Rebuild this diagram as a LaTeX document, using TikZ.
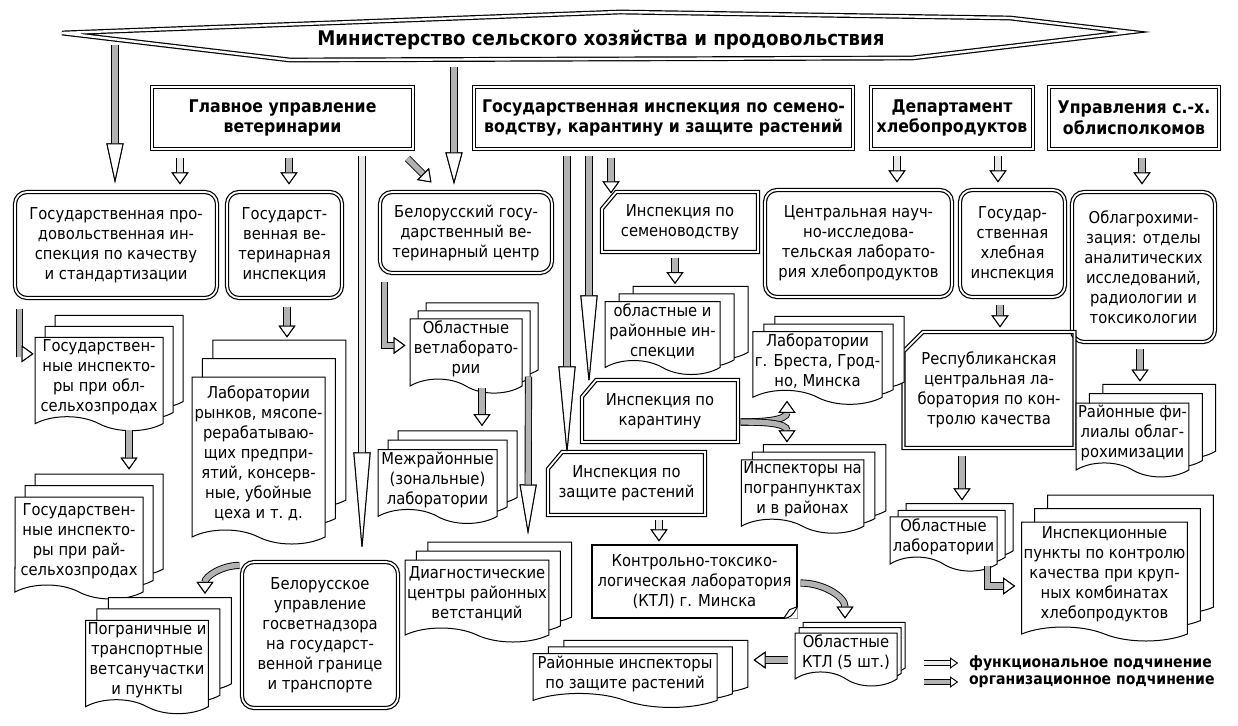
\documentclass[tikz,border=0pt]{standalone}
\usepackage{fontspec}
\setmainfont[FakeStretch=0.9]{DejaVu Sans}
\usetikzlibrary{
    arrows.meta,        % puntas Triangle de las flechas de bloque
    calc,               % desplazamientos desde anclas
    shapes.misc,        % chamfered rectangle
    shapes.symbols,     % tape (hoja de documento)
    shadows             % copy shadow (hojas apiladas)
}

\begin{document}
\begin{tikzpicture}[
      x=0.5pt, y=-0.5pt,
      font=\fontsize{8.2}{10}\selectfont,
      hdr/.style ={draw, double, double distance=1pt, line width=0.6pt, align=center, inner sep=1pt,
                   font=\bfseries\fontsize{8.75}{10.4}\selectfont},
      rbox/.style={draw, double, double distance=0.9pt, line width=0.6pt, rounded corners=6pt,
                   align=center, inner sep=1pt},
      cbox/.style={chamfered rectangle, chamfered rectangle corners=north west,
                   chamfered rectangle xsep=4pt, chamfered rectangle angle=40,
                   draw, double, double distance=0.9pt, line width=0.6pt, align=center, inner sep=1pt},
      docs/.style n args={4}{tape, tape bend top=none, tape bend bottom=out and in, tape bend height=7pt,
                   draw, fill=white, line width=0.5pt, align=center, inner sep=1pt,
                   copy shadow={shadow xshift=#3, shadow yshift=#4, fill=white, draw=black},
                   copy shadow={shadow xshift=#1, shadow yshift=#2, fill=white, draw=black}},
      orgarr/.style={line width=2.7pt, draw=gray!60,
                   preaction={draw=black, line width=3.6pt,
                              -{Triangle[color=black, fill=white, line width=0.5pt, width=8.5pt, length=#1]}},
                   -{Triangle[color=black, fill=white, line width=0.5pt, width=8.5pt, length=#1]}},
      orgarr/.default=6pt,
      funarr/.style={orgarr=#1, draw=gray!18},
      funarr/.default=6pt,
      legarr/.style={line width=2.2pt, draw=#1,
                   preaction={draw=black, line width=3pt,
                              -{Triangle[color=black, fill=white, line width=0.4pt, width=5.5pt, length=4pt]}},
                   -{Triangle[color=black, fill=white, line width=0.4pt, width=5.5pt, length=4pt]}}
    ]
    \useasboundingbox (0,0) rectangle (1238,725);

    % --- Ministerio (banda superior) ---
    \draw[double, double distance=1.2pt, line width=0.6pt, fill=white]
        (62,33) -- (620,12) -- (1010,18) -- (1130,32) -- (912,58) -- (290,60) -- cycle;
    \node[font=\bfseries\fontsize{10.1}{12}\selectfont] (m) at (601,40)
        {Министерство сельского хозяйства и продовольствия};

    % --- Direcciones (fila 2) ---
    \node[hdr, minimum width=130.5pt, minimum height=31pt] (b1) at (282.5,118) {Главное управление\\ветеринарии};
    \node[hdr, minimum width=189.5pt, minimum height=31pt] (b2) at (663.5,118)
        {Государственная инспекция по семено-\\водству, карантину и защите растений};
    \node[hdr, minimum width=81pt,  minimum height=31pt] (b3) at (952,118)  {Департамент\\хлебопродуктов};
    \node[hdr, minimum width=85pt,  minimum height=31pt] (b4) at (1134,118) {Управления с.-х.\\облисполкомов};

    % --- Inspecciones y centros (fila 3) ---
    \node[rbox, minimum width=101pt, minimum height=53pt] (n1) at (116,245)
        {Государственная про-\\довольственная ин-\\спекция по качеству\\и стандартизации};
    \node[rbox, minimum width=57.5pt, minimum height=53pt] (n2) at (284.5,245)
        {Государст-\\венная ве-\\теринарная\\инспекция};
    \node[rbox, minimum width=86pt, minimum height=40.5pt] (c1) at (466,232.5)
        {Белорусский госу-\\дарственный ве-\\теринарный центр};
    \node[rbox, minimum width=93.5pt, minimum height=53.5pt] (n3) at (858.5,243.5)
        {Центральная науч-\\но-исследова-\\тельская лаборато-\\рия хлебопродуктов};
    \node[rbox, minimum width=52.5pt, minimum height=53.5pt] (n4) at (1012.5,243.5)
        {Государ-\\ственная\\хлебная\\инспекция};
    \node[rbox, minimum width=71.5pt, minimum height=75pt] (n5) at (1143.5,267)
        {Облагрохими-\\зация: отделы\\аналитических\\исследований,\\радиологии и\\токсикологии};
    \node[rbox, minimum width=78pt, minimum height=73pt] (n6) at (320,635)
        {Белорусское\\управление\\госветнадзора\\на государст-\\венной границе\\и транспорте};

    % --- Inspecciones de semillas, cuarentena, proteccion ---
    \node[cbox, minimum width=78pt, minimum height=30pt] (s1) at (680,222) {Инспекция по\\семеноводству};
    \node[cbox, minimum width=78pt, minimum height=31pt] (s2) at (660,411) {Инспекция по\\карантину};
    \node[cbox, minimum width=78.5pt, minimum height=31.5pt] (s3) at (626.5,483.5) {Инспекция по\\защите растений};
    \node[cbox, chamfered rectangle xsep=6pt, chamfered rectangle angle=45,
          minimum width=84pt, minimum height=58pt] (r1) at (989,390)
        {Республиканская\\центральная ла-\\боратория по кон-\\тролю качества};
    \node[draw, line width=0.6pt, align=center, inner sep=1pt, minimum width=102.5pt, minimum height=36.5pt]
        (k1) at (694.5,581.5) {Контрольно-токсико-\\логическая лаборатория\\(КТЛ) г. Минска};
    \fill[white] ($(k1.south east)+(-14,0)$) -- (k1.south east) -- ($(k1.south east)+(0,-12)$) -- cycle;
    \draw[line width=0.5pt] ($(k1.south east)+(-14,0)$) .. controls ($(k1.south east)+(-6,-2)$) .. ($(k1.south east)+(0,-12)$);
    \draw[line width=0.5pt] ($(k1.south east)+(-14,0)$) -- ($(k1.south east)+(-8,-9)$) -- ($(k1.south east)+(0,-12)$);

    % --- Documentos (hojas apiladas) ---
    \node[docs={5pt}{5.5pt}{10pt}{11pt}, minimum width=64pt, minimum height=42pt] (d1) at (99,377)
        {Государствен-\\ные инспекто-\\ры при обл-\\сельхозпродах};
    \node[docs={5.2pt}{9.2pt}{10.4pt}{18.4pt}, minimum width=66.5pt, minimum height=83.5pt] (d2) at (258.5,453.5)
        {Лаборатории\\рынков, мясопе-\\рерабатываю-\\щих предпри-\\ятий, консерв-\\ные, убойные\\цеха и т.~д.};
    \node[docs={4pt}{4pt}{8pt}{8pt}, minimum width=56pt, minimum height=36pt] (d3) at (466,349)
        {Областные\\ветлаборато-\\рии};
    \node[docs={5pt}{4.7pt}{10pt}{9.4pt}, minimum width=59.5pt, minimum height=32.5pt] (d4) at (437.5,479.5)
        {Межрайонные\\(зональные)\\лаборатории};
    \node[docs={5.7pt}{4.5pt}{11.4pt}{9pt}, minimum width=70pt, minimum height=41pt] (d5) at (477,594)
        {Диагностические\\центры районных\\ветстанций};
    \node[docs={7pt}{3.8pt}{14pt}{7.6pt}, minimum width=57.5pt, minimum height=33pt] (d6) at (662.5,331)
        {областные и\\районные ин-\\спекции};
    \node[docs={5.5pt}{3.8pt}{11pt}{7.6pt}, minimum width=60.5pt, minimum height=33pt] (d7) at (817.5,361)
        {Лаборатории\\г. Бреста, Грод-\\но, Минска};
    \node[docs={5.5pt}{3.8pt}{11pt}{7.6pt}, minimum width=60.5pt, minimum height=32.5pt] (d8) at (802.5,489.5)
        {Инспекторы на\\погранпунктах\\и в районах};
    \node[docs={6.7pt}{4.7pt}{13.4pt}{9.4pt}, minimum width=55.5pt, minimum height=31pt] (d9) at (1132.5,433)
        {Районные фи-\\лиалы облаг-\\рохимизации};
    \node[docs={4pt}{3.3pt}{8pt}{6.6pt}, minimum width=53.5pt, minimum height=22pt] (d10) at (943.5,537)
        {Областные\\лаборатории};
    \node[docs={6.5pt}{6.7pt}{13pt}{13.4pt}, minimum width=82.5pt, minimum height=59.5pt] (d11) at (1104.5,574.5)
        {Инспекционные\\пункты по контролю\\качества при круп-\\ных комбинатах\\хлебопродуктов};
    \node[docs={5pt}{5.7pt}{10pt}{11.4pt}, minimum width=64pt, minimum height=51pt] (d12) at (79,541)
        {Государствен-\\ные инспекто-\\ры при рай-\\сельхозпродах};
    \node[docs={5.7pt}{5.7pt}{11.4pt}{11.4pt}, minimum width=60pt, minimum height=45pt] (d13) at (147,660)
        {Пограничные и\\транспортные\\ветсанучастки\\и пункты};
    \node[docs={2pt}{2.7pt}{4pt}{5.4pt}, minimum width=51pt, minimum height=24.5pt] (d14) at (846,652.5)
        {Областные\\КТЛ (5 шт.)};
    \node[docs={7.7pt}{3.3pt}{15.4pt}{6.6pt}, minimum width=92pt, minimum height=23.5pt] (d15) at (625,673.5)
        {Районные инспекторы\\по защите растений};

    % --- Leyenda ---
    \node[anchor=west, font=\bfseries\fontsize{7.8}{10}\selectfont] (lfun) at (962,663) {функциональное подчинение};
    \node[anchor=west, font=\bfseries\fontsize{7.8}{10}\selectfont] (lorg) at (962,682) {организационное подчинение};

    % ================= FLECHAS =================

    % --- Desde el ministerio ---
    \draw[orgarr=20pt] ($(m.center)+(-486,5)$) -- ($(n1.north)+(-1,-8)$);
    \draw[orgarr=16pt] ($(m.center)+(-147,27)$) -- ($(c1.north)+(-12,-7)$);

    % --- Desde las direcciones ---
    \draw[funarr] ($(b1.south)+(-102.5,8)$) -- ($(b1.south |- n1.north)+(-102.5,-7)$);
    \draw[orgarr] ($(b1.south)+(6.5,8)$) -- ($(b1.south |- n2.north)+(6.5,-7)$);
    \draw[funarr=50pt] ($(b1.south)+(79.5,6)$) -- ($(b1.south |- n6.north)+(79.5,-9)$);
    \draw[orgarr] ($(b1.south east)+(-6,9)$) -- ($(c1.north west)+(52,-9)$);
    \draw[orgarr=45pt] ($(b2.south)+(-96.5,6)$) -- ($(b2.south |- s3.north)+(-96.5,5)$);
    \draw[orgarr=45pt] ($(b2.south)+(-74.5,6)$) -- ($(b2.south |- s2.north)+(-74.5,6)$);
    \draw[orgarr] ($(b2.south)+(-52.5,8)$) -- ($(b2.south |- s1.north)+(-52.5,2)$);
    \draw[funarr] ($(b3.south)+(-55,6)$) -- ($(b3.south |- n3.north)+(-55,-7)$);
    \draw[funarr] ($(b3.south)+(46,6)$) -- ($(b3.south |- n4.north)+(46,-7)$);
    \draw[orgarr] ($(b4.south)+(8,8)$) -- ($(b4.south |- n5.north)+(8,-7)$);

    % --- Hacia los documentos ---
    \draw[orgarr] ($(n1.south west)+(5,10)$) |- ($(d1.north west)+(-1,17)$);
    \draw[orgarr] ($(n2.south)+(2.5,8)$) -- ($(d2.north)+(28.5,-39)$);
    \draw[orgarr] ($(d1.south)+(30,13)$) -- ($(d12.north)+(50,-27)$);
    \draw[orgarr] ($(c1.south west)+(5,8)$) |- ($(d3.north west)+(-4,27)$);
    \draw[orgarr] ($(d3.south)+(16,8)$) -- ($(d4.north)+(44.5,-23)$);
    \draw[orgarr=25pt] ($(d3.south east)+(6,-3)$) -- ($(d5.north)+(51,-25)$);
    \draw[orgarr] ($(s1.south)+(-5,5)$) -- ($(d6.north)+(12.5,-17)$);
    \draw[orgarr] ($(s2.east)+(2,11)$) to[out=0, in=-90] ($(d7.south)+(-30.5,10)$);
    \draw[orgarr] ($(s2.east)+(2,11)$) to[out=0, in=90] ($(d8.north)+(-15.5,-17)$);
    \draw[funarr] ($(s3.south)+(32.5,4)$) -- ($(k1.north)+(-35.5,-3)$);
    \draw[orgarr] ($(k1.east)+(3,1.5)$) to[out=0, in=90] ($(d14.north)+(-1,-14)$);
    \draw[orgarr] ($(d14.west)+(-7,7.5)$) -- ($(d15.east)+(36,-13.5)$);
    \draw[orgarr] ($(n6.north west)+(-2,4)$) to[out=180, in=90] ($(d13.north)+(58,-26)$);
    \draw[orgarr] ($(n4.south)+(-12.5,7)$) -- ($(r1.north)+(11,-4)$);
    \draw[orgarr] ($(n5.south)+(-3.5,6)$) -- ($(d9.north)+(7.5,-21)$);
    \draw[orgarr] ($(r1.south)+(-27,7)$) -- ($(d10.north)+(18.5,-16)$);
    \draw[orgarr] ($(d10.south east)+(-10,8)$) |- ($(d11.west)+(-6,11.5)$);

    % --- Leyenda: flechas ---
    \draw[legarr=gray!15] ($(lfun.west)+(-38,0)$) -- ($(lfun.west)+(-4,0)$);
    \draw[legarr=gray!60] ($(lorg.west)+(-38,0)$) -- ($(lorg.west)+(-4,0)$);

  \end{tikzpicture}
\end{document}
